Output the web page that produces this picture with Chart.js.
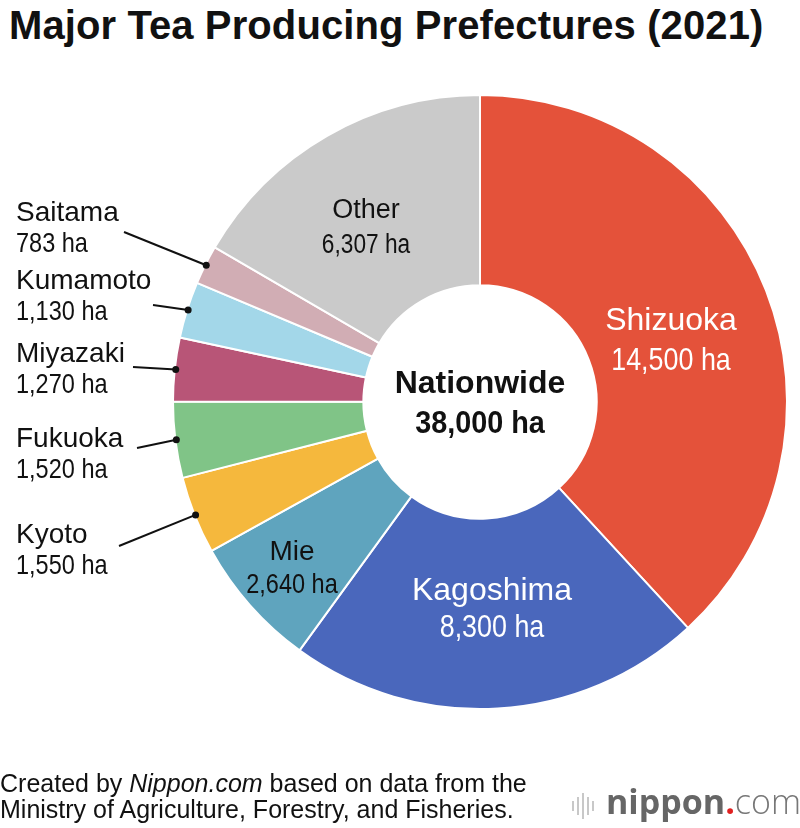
<!DOCTYPE html>
<html>
<head>
<meta charset="utf-8">
<script src="https://cdn.jsdelivr.net/npm/chart.js@4.4.0/dist/chart.umd.min.js"></script>
<style>
  body { margin: 0; background: #fff; width: 800px; height: 828px; position: relative; overflow: hidden; font-family: "Liberation Sans", Arial, sans-serif; }
  #chart { position: absolute; left: 0; top: 0; }
  .title { position: absolute; left: 9px; top: 2px; font-weight: bold; font-size: 40px; line-height: 46px; color: #111; white-space: nowrap; letter-spacing: 0.1px; }
  .source { position: absolute; left: 0; top: 770px; font-size: 25px; line-height: 26px; color: #111; white-space: nowrap; }
  .logo { position: absolute; left: 572px; top: 782px; height: 40px; white-space: nowrap; }
  .bars { position: absolute; left: 0; top: 11px; }
  .bars span { position: absolute; width: 2px; background: #c8c8c8; }
  .word { position: absolute; left: 34px; top: -4px; font-family: "Open Sans", sans-serif; font-size: 34px; }
  .word b { color: #666; font-weight: 700; }
  .word i { color: #e02020; font-style: normal; font-weight: 700; }
  .word em { color: #777; font-style: normal; font-weight: 300; }
</style>
</head>
<body>
<div class="title">Major Tea Producing Prefectures (2021)</div>
<canvas id="chart" width="800" height="828"></canvas>
<div class="source">Created by <i>Nippon.com</i> based on data from the<br>Ministry of Agriculture, Forestry, and Fisheries.</div>
<div class="logo">
  <div class="bars">
    <span style="left:0;top:8px;height:10px"></span>
    <span style="left:5px;top:4px;height:18px"></span>
    <span style="left:10px;top:0;height:26px"></span>
    <span style="left:15px;top:4px;height:18px"></span>
    <span style="left:20px;top:8px;height:10px"></span>
  </div>
  <div class="word"><b>nippon</b><i>.</i><em>com</em></div>
</div>
<script>
var prefectures = ['Shizuoka', 'Kagoshima', 'Mie', 'Kyoto', 'Fukuoka', 'Miyazaki', 'Kumamoto', 'Saitama', 'Other'];
var hectares = [14500, 8300, 2640, 1550, 1520, 1270, 1130, 783, 6307];
var valueLabels = ['14,500 ha', '8,300 ha', '2,640 ha', '1,550 ha', '1,520 ha', '1,270 ha', '1,130 ha', '783 ha', '6,307 ha'];
var sliceColors = ['#e4523a', '#4a67bc', '#5fa4be', '#f5b83d', '#80c487', '#b85577', '#a3d7e9', '#d1adb4', '#cacaca'];
var centerTitle = 'Nationwide';
var totalLabel = '38,000 ha';

var FONT = '"Liberation Sans", Arial, sans-serif';
var NARROW = 0.84; // numbers are set in a condensed face in the original

// where each label sits: inside labels are centred, outside ones are left aligned with a leader line
var labelPlace = {
    'Shizuoka':  { x: 671, y: 330, gap: 40, inside: true, color: '#fff', size: 32 },
    'Kagoshima': { x: 492, y: 600, gap: 37, inside: true, color: '#fff', size: 32 },
    'Mie':       { x: 292, y: 560, gap: 33, inside: true, color: '#111', size: 28 },
    'Other':     { x: 366, y: 218, gap: 35, inside: true, color: '#111', size: 27 },
    'Saitama':   { x: 16, y: 221, lx: 124, ly: 232 },
    'Kumamoto':  { x: 16, y: 289, lx: 153, ly: 305 },
    'Miyazaki':  { x: 16, y: 362, lx: 133, ly: 367 },
    'Fukuoka':   { x: 16, y: 447, lx: 137, ly: 448 },
    'Kyoto':     { x: 16, y: 543, lx: 119, ly: 546 }
};

function narrowText(ctx, text, x, y, sx) {
    ctx.save();
    ctx.translate(x, y);
    ctx.scale(sx, 1);
    ctx.fillText(text, 0, 0);
    ctx.restore();
}

var sliceLabels = {
    id: 'sliceLabels',
    afterDraw: function(chart) {
        var ctx = chart.ctx;
        var meta = chart.getDatasetMeta(0);
        ctx.save();
        ctx.textBaseline = 'alphabetic';
        for (var i = 0; i < prefectures.length; i++) {
            var p = labelPlace[prefectures[i]];
            var arc = meta.data[i];
            if (p.inside) {
                ctx.fillStyle = p.color;
                ctx.textAlign = 'center';
                ctx.font = p.size + 'px ' + FONT;
                ctx.fillText(prefectures[i], p.x, p.y);
                narrowText(ctx, valueLabels[i], p.x, p.y + p.gap, NARROW);
            } else {
                ctx.fillStyle = '#111';
                ctx.textAlign = 'left';
                ctx.font = '28px ' + FONT;
                ctx.fillText(prefectures[i], p.x, p.y);
                narrowText(ctx, valueLabels[i], p.x, p.y + 31, NARROW);
                var mid = (arc.startAngle + arc.endAngle) / 2;
                var ex = arc.x + Math.cos(mid) * (arc.outerRadius - 1);
                var ey = arc.y + Math.sin(mid) * (arc.outerRadius - 1);
                ctx.strokeStyle = '#111';
                ctx.lineWidth = 2;
                ctx.beginPath();
                ctx.moveTo(p.lx, p.ly);
                ctx.lineTo(ex, ey);
                ctx.stroke();
                ctx.beginPath();
                ctx.arc(ex, ey, 3.5, 0, Math.PI * 2);
                ctx.fill();
            }
        }
        // centre text
        var c = meta.data[0];
        ctx.fillStyle = '#111';
        ctx.textAlign = 'center';
        ctx.font = 'bold 32px ' + FONT;
        ctx.fillText(centerTitle, c.x, c.y - 9);
        narrowText(ctx, totalLabel, c.x, c.y + 31, 0.9);
        ctx.restore();
    }
};

var chart = new Chart(document.getElementById('chart'), {
    type: 'doughnut',
    data: {
        labels: prefectures,
        datasets: [{
            data: hectares,
            backgroundColor: sliceColors,
            borderColor: '#fff',
            borderWidth: 2
        }]
    },
    options: {
        responsive: false,
        animation: false,
        cutout: '38%',
        layout: { padding: { left: 172, right: 12, top: 94, bottom: 118 } },
        plugins: {
            legend: { display: false },
            tooltip: { enabled: false }
        }
    },
    plugins: [sliceLabels]
});
</script>
</body>
</html>
